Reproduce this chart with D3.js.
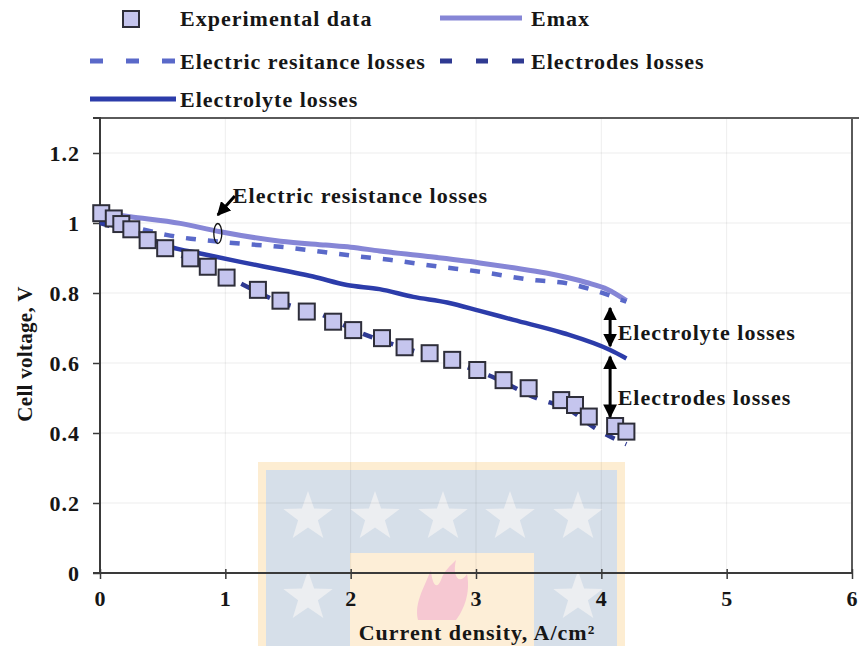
<!DOCTYPE html>
<html>
<head>
<meta charset="utf-8">
<script src="https://cdn.jsdelivr.net/npm/d3@7"></script>
<style>
  html, body { margin: 0; padding: 0; background: #ffffff; }
  svg { display: block; font-family: "Liberation Serif", "Times New Roman", serif; font-weight: bold; }
</style>
</head>
<body>
<svg id="chart" width="859" height="646"></svg>
<script>
// ---- Data (current density in A/cm², cell voltage in V) ----
const expCurrent = [0.01, 0.11, 0.17, 0.25, 0.38, 0.52, 0.72, 0.86, 1.01, 1.26, 1.44, 1.65, 1.86, 2.02, 2.25, 2.43, 2.63, 2.81, 3.01, 3.22, 3.42, 3.68, 3.79, 3.90, 4.11, 4.20];
const expVoltage = [1.028, 1.013, 0.997, 0.982, 0.951, 0.928, 0.899, 0.875, 0.844, 0.809, 0.778, 0.747, 0.718, 0.694, 0.671, 0.645, 0.628, 0.609, 0.580, 0.551, 0.528, 0.494, 0.480, 0.447, 0.420, 0.404];

const emaxCurrent = [0, 0.24, 0.64, 0.96, 1.44, 1.8, 2.0, 2.23, 2.6, 3.03, 3.3, 3.56, 3.88, 4.05, 4.2];
const emaxVoltage = [1.03, 1.018, 0.999, 0.975, 0.948, 0.937, 0.931, 0.92, 0.905, 0.886, 0.872, 0.857, 0.83, 0.81, 0.778];

const resCurrent = [0, 0.25, 0.53, 1.06, 1.44, 2.05, 2.31, 2.69, 3.03, 3.43, 3.75, 3.94, 4.2];
const resVoltage = [1.01, 0.99, 0.966, 0.943, 0.932, 0.905, 0.895, 0.876, 0.861, 0.838, 0.826, 0.808, 0.775];

const lyteCurrent = [0, 0.2, 0.4, 0.56, 0.8, 1.12, 1.5, 1.7, 1.97, 2.23, 2.5, 2.77, 3.03, 3.3, 3.7, 4.07, 4.2];
const lyteVoltage = [1.005, 0.982, 0.955, 0.932, 0.913, 0.889, 0.862, 0.847, 0.823, 0.811, 0.789, 0.773, 0.749, 0.723, 0.685, 0.637, 0.613];

const electrodeCurrent = [0, 0.2, 0.45, 0.75, 1.05, 1.45, 1.74, 2.1, 2.5, 2.85, 3.1, 3.48, 3.75, 3.95, 4.2];
const electrodeVoltage = [1.0, 0.978, 0.94, 0.89, 0.84, 0.772, 0.742, 0.683, 0.635, 0.598, 0.565, 0.5, 0.465, 0.414, 0.368];

const xTicks = [0, 1, 2, 3, 4, 5, 6];
const xTickLabels = ["0", "1", "2", "3", "4", "5", "6"];
const yTicks = [0, 0.2, 0.4, 0.6, 0.8, 1.0, 1.2];
const yTickLabels = ["0", "0.2", "0.4", "0.6", "0.8", "1", "1.2"];

const legendLabels = ["Experimental data", "Emax", "Electric resitance losses", "Electrodes losses", "Electrolyte losses"];

// Loss bands marked with double arrows at a fixed current density
const lossArrowCurrent = 4.07;
const lossArrowRanges = [[0.757, 0.648], [0.618, 0.446]];
const lossLabels = ["Electrolyte losses", "Electrodes losses"];
const lossLabelCurrent = 4.13;
const lossLabelVoltage = [0.689, 0.503];

// Call-out for the resistance band
const calloutText = "Electric resistance losses";
const calloutTextPos = [1.06, 1.08];
const calloutTip = [0.94, 1.023];
const calloutEllipse = [0.94, 0.970];

// ---- Layout ----
const svg = d3.select("#chart");
const W = 859, H = 646;
const plot = { left: 100, right: 852, top: 118, bottom: 573 };
const FONT = 22;
const SPACING = 1;
const TEXT = "#161616";

const x = d3.scaleLinear().domain([0, 6]).range([plot.left, plot.right]);
const y = d3.scaleLinear().domain([0, 1.3]).range([plot.bottom, plot.top]);

const colEmax = "#8686d6";
const colRes = "#5a69c9";
const colLyte = "#2c3caa";
const colElectrode = "#2f3a92";
const colSquare = "#c5c5ee";

const defs = svg.append("defs");
defs.append("marker")
  .attr("id", "head")
  .attr("viewBox", "0 0 10 10")
  .attr("refX", 9).attr("refY", 5)
  .attr("markerWidth", 4.6).attr("markerHeight", 4.6)
  .attr("markerUnits", "strokeWidth")
  .attr("orient", "auto-start-reverse")
  .append("path").attr("d", "M0,0 L10,5 L0,10 Z").attr("fill", "#000");

// ---- Background logo (faint) ----
const logo = svg.append("g").attr("class", "logo");
logo.append("rect").attr("x", 258).attr("y", 462).attr("width", 367).attr("height", 190).attr("fill", "#fdedd2");
logo.append("rect").attr("x", 266).attr("y", 470).attr("width", 351).attr("height", 180).attr("fill", "#d6dfe9");
function starPath(cx, cy, R) {
  const r = R * 0.4;
  const pts = d3.range(10).map(i => {
    const a = -Math.PI / 2 + i * Math.PI / 5;
    const rad = i % 2 === 0 ? R : r;
    return [cx + rad * Math.cos(a), cy + rad * Math.sin(a)];
  });
  return "M" + pts.map(p => p.join(",")).join("L") + "Z";
}
[[308, 517], [375, 517], [443, 517], [510, 517], [578, 517], [308, 597], [578, 597]].forEach(([cx, cy]) => {
  logo.append("path").attr("d", starPath(cx, cy, 26)).attr("fill", "#eceef1");
});
logo.append("rect").attr("x", 350).attr("y", 553).attr("width", 184).attr("height", 100).attr("fill", "#fdeed7");
logo.append("path")
  .attr("d", "M418,620 C414,603 424,588 431,570 C432,585 437,590 441,580 C444,571 450,566 456,560 C452,576 459,586 467,574 C471,594 463,611 456,620 Z")
  .attr("fill", "#f6c8d2");

// ---- Grid ----
const grid = svg.append("g").attr("stroke", "rgba(0,0,0,0.07)").attr("stroke-width", 1);
yTicks.slice(1).forEach(v => {
  grid.append("line").attr("x1", plot.left).attr("x2", plot.right).attr("y1", y(v)).attr("y2", y(v));
});
xTicks.slice(1, -1).forEach(v => {
  grid.append("line").attr("x1", x(v)).attr("x2", x(v)).attr("y1", plot.top).attr("y2", plot.bottom);
});

// ---- Frame (top and right) ----
svg.append("line").attr("x1", plot.left - 3).attr("x2", W).attr("y1", plot.top).attr("y2", plot.top)
  .attr("stroke", "#5a5a5a").attr("stroke-width", 2);
svg.append("line").attr("x1", plot.right).attr("x2", plot.right).attr("y1", plot.top).attr("y2", plot.bottom)
  .attr("stroke", "#5a5a5a").attr("stroke-width", 2);

// ---- Axes ----
const yAxis = d3.axisLeft(y).tickValues(yTicks).tickFormat((d, i) => yTickLabels[i]).tickSize(7).tickPadding(13);
const gy = svg.append("g").attr("transform", `translate(${plot.left},0)`).call(yAxis);
const xAxis = d3.axisBottom(x).tickValues(xTicks).tickFormat((d, i) => xTickLabels[i]).tickSize(6).tickPadding(11);
const gx = svg.append("g").attr("transform", `translate(0,${plot.bottom})`).call(xAxis);
[gx, gy].forEach(g => {
  g.select(".domain").attr("stroke", "#3a3a3a").attr("stroke-width", 2);
  g.selectAll(".tick line").attr("stroke", "#3a3a3a").attr("stroke-width", 1.5);
  g.selectAll(".tick text").attr("font-size", FONT).attr("font-family", "Liberation Serif, Times New Roman, serif")
    .attr("font-weight", "bold").attr("fill", TEXT).attr("letter-spacing", SPACING);
});
gx.selectAll(".tick line").attr("y1", -4);
gy.select(".domain").attr("d", `M-7,${plot.top}H0V${plot.bottom}H-7`);
gx.select(".domain").attr("d", `M${plot.left - 7},0H${plot.right}`);

// Axis titles
svg.append("text").attr("x", (plot.left + plot.right) / 2 + 1).attr("y", 632).attr("dy", "0.35em")
  .attr("text-anchor", "middle").attr("font-size", FONT).attr("letter-spacing", SPACING).attr("fill", TEXT)
  .text("Current density, A/cm²");
svg.append("text").attr("transform", "translate(25,354) rotate(-90)").attr("dy", "0.35em")
  .attr("text-anchor", "middle").attr("font-size", 21).attr("letter-spacing", 0.3).attr("fill", TEXT)
  .text("Cell voltage, V");

// ---- Series ----
const zip = (xs, ys) => xs.map((v, i) => [v, ys[i]]);
const line = d3.line().x(d => x(d[0])).y(d => y(d[1])).curve(d3.curveMonotoneX);

const series = svg.append("g").attr("fill", "none").attr("stroke-linejoin", "round");
series.append("path").datum(zip(electrodeCurrent, electrodeVoltage)).attr("d", line)
  .attr("stroke", colElectrode).attr("stroke-width", 4.5).attr("stroke-dasharray", "10,12");
series.append("path").datum(zip(emaxCurrent, emaxVoltage)).attr("d", line)
  .attr("stroke", colEmax).attr("stroke-width", 5);
series.append("path").datum(zip(resCurrent, resVoltage)).attr("d", line)
  .attr("stroke", colRes).attr("stroke-width", 4.5).attr("stroke-dasharray", "10,12");
series.append("path").datum(zip(lyteCurrent, lyteVoltage)).attr("d", line)
  .attr("stroke", colLyte).attr("stroke-width", 4.5);

// Experimental squares
const S = 16;
svg.append("g").selectAll("rect").data(zip(expCurrent, expVoltage)).join("rect")
  .attr("x", d => x(d[0]) - S / 2).attr("y", d => y(d[1]) - S / 2)
  .attr("width", S).attr("height", S)
  .attr("fill", colSquare).attr("stroke", "#2e2e3a").attr("stroke-width", 2);

// ---- Annotations ----
const ann = svg.append("g").attr("font-size", FONT).attr("letter-spacing", SPACING);
ann.append("ellipse").attr("cx", x(calloutEllipse[0])).attr("cy", y(calloutEllipse[1]))
  .attr("rx", 4).attr("ry", 10).attr("fill", "none").attr("stroke", "#111").attr("stroke-width", 1.3);
ann.append("line")
  .attr("x1", x(calloutTextPos[0]) + 2).attr("y1", y(calloutTextPos[1]) + 1)
  .attr("x2", x(calloutTip[0])).attr("y2", y(calloutTip[1]))
  .attr("stroke", "#000").attr("stroke-width", 3).attr("marker-end", "url(#head)");
ann.append("text").attr("x", x(calloutTextPos[0])).attr("y", y(calloutTextPos[1])).attr("dy", "0.35em")
  .attr("fill", TEXT).text(calloutText);

lossArrowRanges.forEach((r, i) => {
  ann.append("line")
    .attr("x1", x(lossArrowCurrent)).attr("x2", x(lossArrowCurrent))
    .attr("y1", y(r[0])).attr("y2", y(r[1]))
    .attr("stroke", "#000").attr("stroke-width", 3)
    .attr("marker-start", "url(#head)").attr("marker-end", "url(#head)");
  ann.append("text").attr("x", x(lossLabelCurrent)).attr("y", y(lossLabelVoltage[i])).attr("dy", "0.35em")
    .attr("fill", TEXT).text(lossLabels[i]);
});

// ---- Legend ----
const leg = svg.append("g").attr("font-size", FONT).attr("letter-spacing", SPACING);
leg.append("rect").attr("x", 123).attr("y", 11).attr("width", S).attr("height", S)
  .attr("fill", colSquare).attr("stroke", "#2e2e3a").attr("stroke-width", 2);
leg.append("line").attr("x1", 440).attr("x2", 522).attr("y1", 18).attr("y2", 18)
  .attr("stroke", colEmax).attr("stroke-width", 5);
leg.append("line").attr("x1", 90).attr("x2", 176).attr("y1", 61).attr("y2", 61)
  .attr("stroke", colRes).attr("stroke-width", 5).attr("stroke-dasharray", "13,23");
leg.append("line").attr("x1", 440).attr("x2", 524).attr("y1", 61).attr("y2", 61)
  .attr("stroke", colElectrode).attr("stroke-width", 5).attr("stroke-dasharray", "12,24");
leg.append("line").attr("x1", 90).attr("x2", 176).attr("y1", 99).attr("y2", 99)
  .attr("stroke", colLyte).attr("stroke-width", 5);
const legPos = [[180, 18], [531, 18], [180, 61], [531, 61], [180, 99]];
legendLabels.forEach((t, i) => {
  leg.append("text").attr("x", legPos[i][0]).attr("y", legPos[i][1]).attr("dy", "0.35em")
    .attr("fill", TEXT).text(t);
});
</script>
</body>
</html>
